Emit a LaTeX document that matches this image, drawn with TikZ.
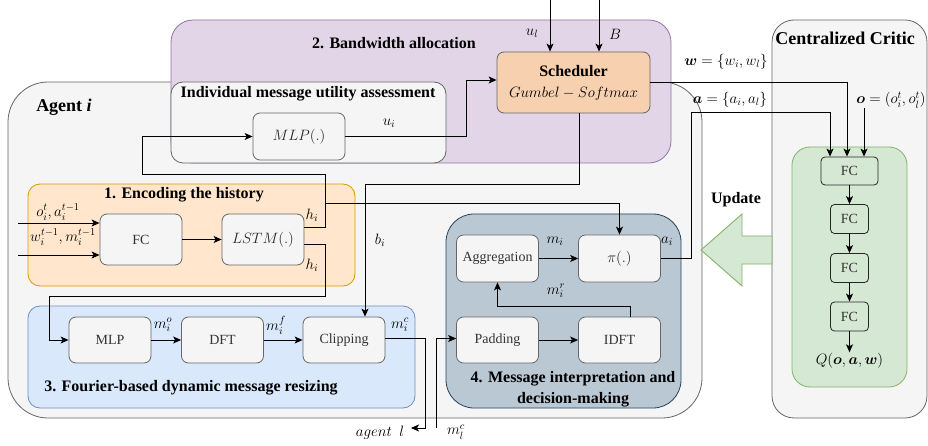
\RequirePackage{fix-cm}
\documentclass[tikz,border=0pt]{standalone}
\usepackage{amsmath}
\usepackage{fontspec}
\setmainfont{Liberation Serif}
\usetikzlibrary{arrows.meta}

\definecolor{agentfill}{HTML}{F5F5F5}
\definecolor{agentdraw}{HTML}{666666}
\definecolor{nodetext}{HTML}{333333}
\definecolor{purplefill}{HTML}{E1D5E7}
\definecolor{purpledraw}{HTML}{9673A6}
\definecolor{orangefill}{HTML}{FFE6CC}
\definecolor{orangedraw}{HTML}{D79B00}
\definecolor{bluefill}{HTML}{DAE8FC}
\definecolor{bluedraw}{HTML}{6C8EBF}
\definecolor{slatefill}{HTML}{BAC8D3}
\definecolor{slatedraw}{HTML}{23445D}
\definecolor{greenfill}{HTML}{D5E8D4}
\definecolor{greendraw}{HTML}{82B366}
\definecolor{schedfill}{HTML}{F7D0B0}

\begin{document}
\begin{tikzpicture}[x=1pt,y=-1pt,
  font=\fontsize{15}{18}\selectfont,
  >={Stealth[length=8pt,width=7pt,inset=2pt]},
  blk/.style={draw=agentdraw,fill=agentfill,text=nodetext,rounded corners=7pt,line width=0.8pt,
    minimum width=82pt,minimum height=47pt,inner sep=1pt,font=\fontsize{14}{16}\selectfont},
  cfc/.style={draw=black!85,fill=greenfill,text=nodetext,rounded corners=4pt,line width=0.8pt,
    minimum width=38pt,minimum height=29pt,inner sep=1pt,font=\fontsize{14}{16}\selectfont},
  ttl/.style={inner sep=0pt,font=\fontsize{16}{19}\selectfont\bfseries},
  lbl/.style={inner sep=1pt},
  wire/.style={->,line width=0.9pt},
  area/.style={line width=0.8pt}]
  \useasboundingbox (0,0) rectangle (928,446);

  \draw[area,fill=agentfill,draw=agentdraw,rounded corners=40pt] (8,82) rectangle (702,418);
  \draw[area,fill=purplefill,draw=purpledraw,rounded corners=22pt] (171,20) rectangle (671,163);
  \draw[area,fill=agentfill,draw=agentdraw,rounded corners=12pt] (171,82) rectangle (446,163);
  \draw[area,fill=agentfill,draw=agentdraw,rounded corners=22pt] (772,20) rectangle (927,418);
  \draw[area,fill=greenfill,draw=greendraw,rounded corners=18pt] (792,147) rectangle (907,387);
  \draw[area,fill=orangefill,draw=orangedraw,rounded corners=12pt] (28,184) rectangle (355,286);
  \draw[area,fill=bluefill,draw=bluedraw,rounded corners=12pt] (28,306) rectangle (415,408);
  \draw[area,fill=slatefill,draw=slatedraw,rounded corners=28pt] (446,214) rectangle (681,408);

  \node[ttl,font=\fontsize{18}{21}\selectfont\bfseries] (agttl) at (64,107) {Agent \textit{i}};
  \node[ttl] (bwttl) at (394,43) {2. Bandwidth allocation};
  \node[ttl] (utttl) at (308,94) {Individual message utility assessment};
  \node[ttl,font=\fontsize{18}{21}\selectfont\bfseries] (crttl) at (845,38) {Centralized Critic};
  \node[ttl] (enttl) at (184,195) {1. Encoding the history};
  \node[ttl] (frttl) at (191,388) {3. Fourier-based dynamic message resizing};
  \node[ttl,align=center,font=\fontsize{16}{21}\selectfont\bfseries] (dmttl) at (573,389)
    {4. Message interpretation and\\decision-making};
  \node[ttl] (updttl) at (736,200) {Update};

  \node[blk,minimum width=92pt,text=black!85,font=\fontsize{15}{18}\selectfont] (mlpu) at (299,136.5) {$MLP(.)$};
  \node[blk,fill=schedfill,text=black,minimum width=153pt,minimum height=61pt,align=center,
    font=\fontsize{15}{21}\selectfont] (sched) at (573.5,82.5)
    {{\fontsize{16}{21}\selectfont\bfseries Scheduler}\\$Gumbel-Softmax$};

  \node[blk,minimum height=51pt] (fc1) at (141,239.5) {FC};
  \node[blk,minimum height=51pt,text=black!85,font=\fontsize{15}{18}\selectfont] (lstm) at (263,239.5) {$LSTM(.)$};

  \node[blk,minimum height=46pt] (mlp) at (110,340) {MLP};
  \node[blk,minimum height=46pt] (dft) at (222.5,340) {DFT};
  \node[blk,minimum height=46pt] (clip) at (344,340) {Clipping};

  \node[blk] (agg) at (497.5,258.5) {Aggregation};
  \node[blk,text=black!85,font=\fontsize{15}{18}\selectfont] (pi) at (619.5,258.5) {$\pi(.)$};
  \node[blk,minimum height=46pt] (pad) at (497.5,340) {Padding};
  \node[blk,minimum height=46pt] (idft) at (619.5,340) {IDFT};

  \node[cfc,minimum width=57pt,minimum height=28pt] (cfc1) at (849.5,171) {FC};
  \node[cfc] (cfc2) at (849.5,219) {FC};
  \node[cfc] (cfc3) at (849.5,268) {FC};
  \node[cfc] (cfc4) at (849.5,316.5) {FC};
  \node[lbl] (qval) at (849.5,361) {$Q(\boldsymbol{o},\boldsymbol{a},\boldsymbol{w})$};

  \draw[fill=greenfill,draw=greendraw,line width=0.9pt] (701,250) -- (742,214) -- (742,236)
    -- (772,236) -- (772,264) -- (742,264) -- (742,286) -- cycle;

  \coordinate (in1) at (18,223);
  \coordinate (in2) at (18,255);
  \draw[wire] (in1) -- (in1 -| fc1.west);
  \draw[wire] (in2) -- (in2 -| fc1.west);
  \node[lbl] (in1lbl) at (58,212) {$o_i^t,a_i^{t-1}$};
  \node[lbl] (in2lbl) at (63,237) {$w_i^{t-1},m_i^{t-1}$};
  \draw[wire] (fc1) -- (lstm);

  \coordinate (hright) at (325,174);
  \coordinate (hturn) at (142,174);
  \coordinate (hjoin) at (325,203);
  \coordinate (hdown) at (325,296);
  \coordinate (hleft) at (49,340);
  \draw[wire] ([yshift=12.5pt]lstm.east) -| (hright) -- (hturn) |- (mlpu.west);
  \draw[wire] (hjoin) -| (pi.north);
  \draw[wire] ([yshift=-4.5pt]lstm.east) -| (hdown) -| (hleft) -- (mlp.west);
  \node[lbl] (h1lbl) at (312,215) {$h_i$};
  \node[lbl] (h2lbl) at (312,265) {$h_i$};

  \draw[wire] (mlp) -- (dft);
  \draw[wire] (dft) -- (clip);
  \node[lbl] (molbl) at (163,325) {$m_i^o$};
  \node[lbl] (mflbl) at (276,325) {$m_i^f$};
  \node[lbl] (mclbl) at (400,325) {$m_i^c$};

  \coordinate (ujoin) at (466,80);
  \draw[wire] (mlpu.east) -| (ujoin) -- (ujoin -| sched.west);
  \node[lbl] (uilbl) at (389,123) {$u_i$};
  \coordinate (ulin) at (550,0);
  \coordinate (bwin) at (599,0);
  \draw[wire] (ulin) -- (ulin |- sched.north);
  \draw[wire] (bwin) -- (bwin |- sched.north);
  \node[lbl] (ullbl) at (532,33) {$u_l$};
  \node[lbl] (bwlbl) at (615,34) {$B$};

  \coordinate (bturn) at (365,184);
  \draw[wire] ([xshift=5.5pt]sched.south) |- (bturn) -- (bturn |- clip.north);
  \node[lbl] (bilbl) at (380,240) {$b_i$};

  \coordinate (cturn) at (425,428);
  \coordinate (aglout) at (411,428);
  \coordinate (mlin) at (436,428);
  \draw[wire] ([yshift=1.5pt]clip.east) -| (cturn) -- (aglout);
  \draw[wire] (mlin) |- ([yshift=1.5pt]pad.west);
  \node[lbl] (agllbl) at (380,433) {$agent\ \ l$};
  \node[lbl] (mllbl) at (456,432) {$m_l^c$};

  \draw[wire] (agg) -- (pi);
  \draw[wire] (pad) -- (idft);
  \coordinate (rturn) at (497.5,306);
  \draw[wire] ([xshift=10.5pt]idft.north) |- (rturn) -- (agg.south);
  \node[lbl] (milbl) at (555,241) {$m_i$};
  \node[lbl] (mrlbl) at (556,291) {$m_i^r$};
  \node[lbl] (ailbl) at (667,241) {$a_i$};

  \coordinate (aturn) at (691,112);
  \coordinate (oin) at (864,108);
  \draw[wire] (sched.east) -| ([xshift=-2.5pt]cfc1.north);
  \draw[wire] (pi.east) -| (aturn) -| ([xshift=-19.5pt]cfc1.north);
  \draw[wire] (oin) -- (oin |- cfc1.north);
  \node[lbl] (wlbl) at (726,62) {$\boldsymbol{w}=\{w_i,w_l\}$};
  \node[lbl] (albl) at (730,100) {$\boldsymbol{a}=\{a_i,a_l\}$};
  \node[lbl] (olbl) at (891,100) {$\boldsymbol{o}=(o_i^t,o_l^t)$};

  \draw[wire] (cfc1) -- (cfc2);
  \draw[wire] (cfc2) -- (cfc3);
  \draw[wire] (cfc3) -- (cfc4);
  \draw[wire] (cfc4) -- (qval);
\end{tikzpicture}
\end{document}
